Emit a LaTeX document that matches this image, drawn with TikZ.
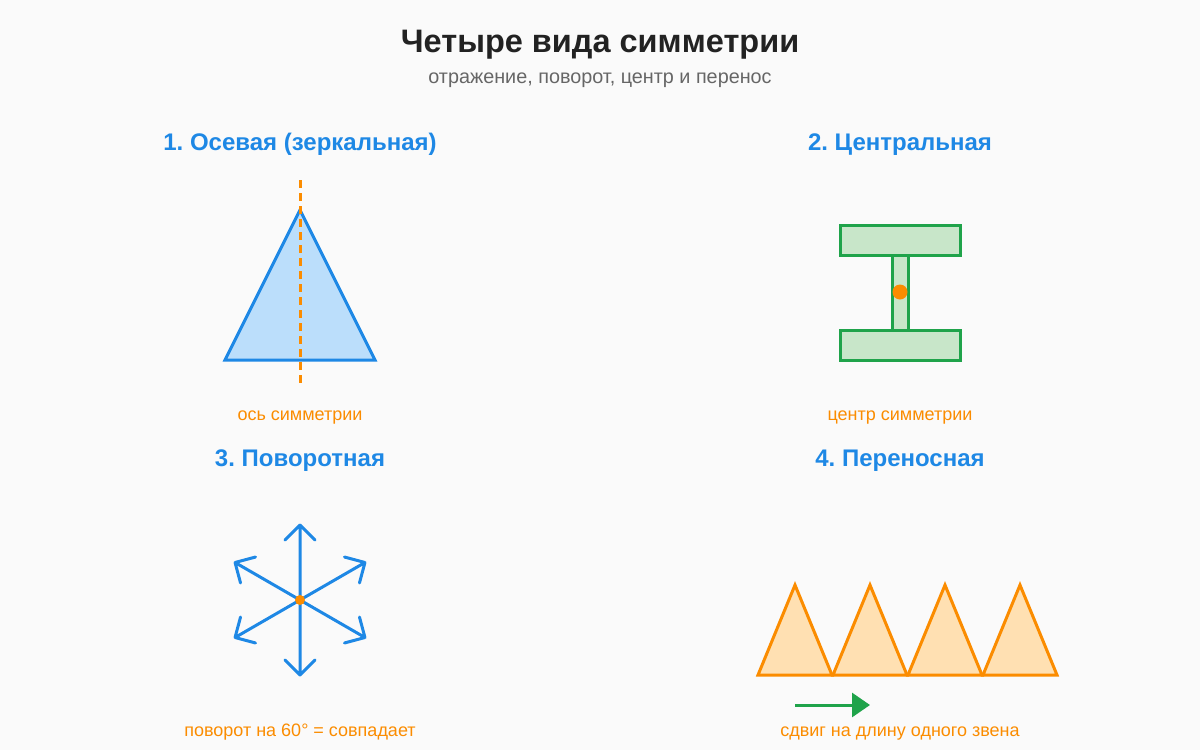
\documentclass[tikz,border=0pt]{standalone}
\usepackage{fontspec}
\setmainfont{Liberation Sans}
\usetikzlibrary{arrows.meta}

\definecolor{bgcol}{HTML}{FAFAFA}
\definecolor{titlecol}{HTML}{222222}
\definecolor{subcol}{HTML}{666666}
\definecolor{symblue}{HTML}{1E88E5}
\definecolor{symbluefill}{HTML}{BBDEFB}
\definecolor{symorange}{HTML}{FB8C00}
\definecolor{symorangefill}{HTML}{FFE0B2}
\definecolor{symgreen}{HTML}{1FA34A}
\definecolor{symgreenfill}{HTML}{C8E6C9}

\tikzset{
  heading/.style={anchor=base, text=symblue, font=\fontsize{24}{28}\selectfont\bfseries},
  caption/.style={anchor=base, text=symorange, font=\fontsize{18}{22}\selectfont},
  shape line/.style={line width=3pt, line join=miter},
}

\begin{document}
\frenchspacing
\begin{tikzpicture}[x=1pt, y=-1pt]
\fill[bgcol] (0,0) rectangle (1200,750);
\useasboundingbox (0,0) rectangle (1200,750);

%--- Title ---
\node[anchor=base, text=titlecol, font=\fontsize{32.5}{38}\selectfont\bfseries] (title) at (600,52) {Четыре вида симметрии};
\node[anchor=base, text=subcol, font=\fontsize{19.8}{24}\selectfont] (subtitle) at (600,83) {отражение, поворот, центр и перенос};

%--- 1. Axial symmetry ---
\node[heading] (head1) at (300,150.5) {1. Осевая (зеркальная)};
\filldraw[shape line, draw=symblue, fill=symbluefill] (300,210) -- (375,360) -- (225,360) -- cycle;
\draw[symorange, line width=3pt, dash pattern=on 8pt off 5pt] (300,180) -- (300,384);
\node[caption] (cap1) at (300,420) {ось симметрии};

%--- 2. Central symmetry ---
\node[heading] (head2) at (900,150.5) {2. Центральная};
\begin{scope}[shape line, draw=symgreen, fill=symgreenfill]
  \filldraw (892,255) rectangle (908,330); % stem
  \filldraw (840,225) rectangle (960,255); % top flange
  \filldraw (840,330) rectangle (960,360); % bottom flange
\end{scope}
\fill[symorange] (900,292) circle (7.5);
\node[caption] (cap2) at (900,420) {центр симметрии};

%--- 3. Rotational symmetry ---
\node[heading] (head3) at (300,466) {3. Поворотная};
\foreach \a in {90,150,...,420} {
  \begin{scope}[shift={(300,600)}, rotate=\a]
    \draw[symblue, line width=3pt, line cap=round, line join=round]
      (0,0) -- (75,0) (60,15) -- (75,0) -- (60,-15);
  \end{scope}
}
\fill[symorange] (300,600) circle (5);
\node[caption] (cap3) at (300,736) {поворот на 60° = совпадает};

%--- 4. Translational symmetry ---
\node[heading] (head4) at (900,466) {4. Переносная};
\foreach \i in {0,...,3} {
  \filldraw[shape line, draw=symorange, fill=symorangefill]
    (758+75*\i,675) -- (795+75*\i,585) -- (832+75*\i,675) -- cycle;
}
\coordinate (shiftA) at (795,705);
\coordinate (shiftB) at (870,705);
\draw[symgreen, line width=3pt, -{Triangle[length=18pt, width=24pt]}] (shiftA) -- (shiftB);
\node[caption] (cap4) at (900,736) {сдвиг на длину одного звена};
\end{tikzpicture}
\end{document}
